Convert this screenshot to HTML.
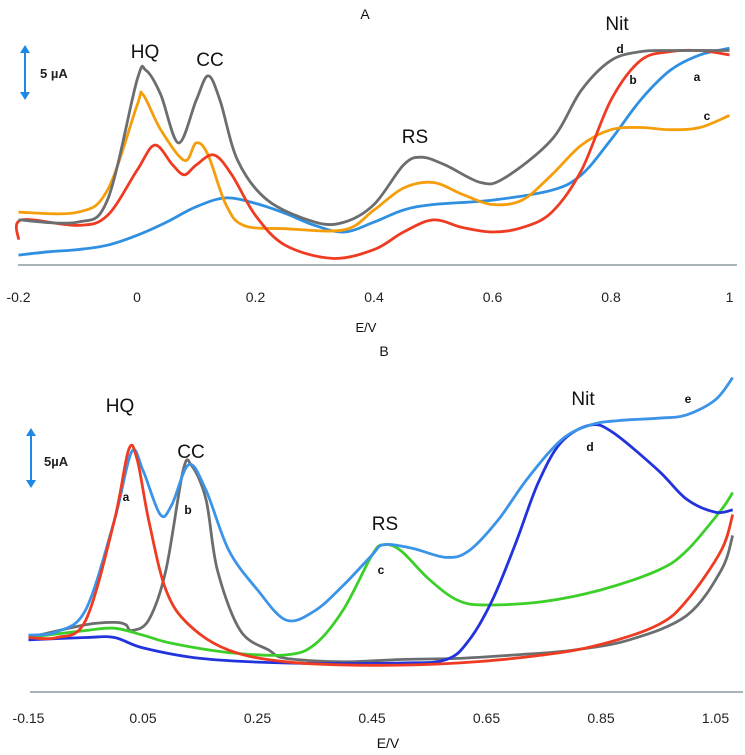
<!DOCTYPE html>
<html><head><meta charset="utf-8"><style>
html,body{margin:0;padding:0;background:#fff;}
svg{display:block;font-family:"Liberation Sans",sans-serif;}
</style></head><body>
<svg id="chart" width="745" height="755" viewBox="0 0 745 755">
<g id="A"></g>
<g id="B"></g>
</svg>
<script>
// Panel A data (E in V, current in µA)
const aTicks = [-0.2, 0, 0.2, 0.4, 0.6, 0.8, 1];
const aTickLabels = ["-0.2", "0", "0.2", "0.4", "0.6", "0.8", "1"];
const aGrayE = [-0.2,-0.1,-0.05,0,0.015,0.04,0.07,0.1,0.12,0.14,0.17,0.22,0.3,0.35,0.4,0.45,0.48,0.52,0.58,0.62,0.7,0.75,0.8,0.85,0.9,1.0];
const aGrayI = [4.1,3.9,5.9,16.8,17.7,15.5,11.1,15,17.2,15,9.5,5.9,3.9,3.9,5.5,9.1,9.8,9.1,7.5,7.9,11.4,15.9,18.6,19.4,19.5,19.5];
const aOrangeE = [-0.2,-0.1,-0.05,0,0.01,0.04,0.08,0.1,0.12,0.15,0.18,0.25,0.35,0.4,0.45,0.5,0.55,0.6,0.65,0.7,0.75,0.8,0.85,0.9,0.95,1.0];
const aOrangeI = [4.8,4.8,6.8,14.5,15.5,12.3,9.5,11.1,10,5.5,3.6,3.3,3.2,5,7,7.5,6.4,5.5,5.9,8.2,10.9,12.3,12.5,12.3,12.5,13.6];
const aRedE = [-0.2,-0.195,-0.1,-0.05,0,0.03,0.06,0.08,0.1,0.13,0.16,0.2,0.25,0.33,0.4,0.45,0.5,0.55,0.6,0.65,0.7,0.75,0.8,0.85,0.9,0.95,1.0];
const aRedI = [2.3,4.1,3.6,4.5,8.6,10.9,9.1,8.2,9.1,10,8.2,4.5,1.8,0.6,1.4,3,4.1,3.4,3,3.4,4.8,8.6,15,18.6,19.4,19.5,19.1];
const aBlueE = [-0.2,-0.15,-0.1,-0.05,0,0.05,0.1,0.15,0.2,0.25,0.3,0.35,0.4,0.45,0.5,0.6,0.7,0.75,0.8,0.85,0.9,0.95,1.0];
const aBlueI = [0.9,1.2,1.4,1.8,2.7,3.9,5.3,6.1,5.6,4.7,3.6,3,3.9,5,5.5,5.9,6.8,8.2,11.4,15,17.7,19.1,19.7];

// Panel B data
const bTicks = [-0.15, 0.05, 0.25, 0.45, 0.65, 0.85, 1.05];
const bTickLabels = ["-0.15", "0.05", "0.25", "0.45", "0.65", "0.85", "1.05"];
const bRedE = [-0.15,-0.1,-0.05,0,0.025,0.04,0.06,0.09,0.13,0.2,0.3,0.45,0.6,0.75,0.85,0.95,1.0,1.06,1.08];
const bRedI = [4.7,4.7,6.2,14.8,20.9,20,14.8,8.8,5.8,3.6,2.6,2.3,2.5,3.2,4.1,5.8,7.9,12.2,15.3];
const bGrayE = [-0.15,-0.05,0,0.02,0.03,0.06,0.09,0.12,0.135,0.16,0.18,0.22,0.27,0.3,0.4,0.5,0.6,0.7,0.8,0.9,1.0,1.06,1.08];
const bGrayI = [4.7,5.8,6,5.8,5.3,6.2,10.5,19.1,19.5,16.6,10.5,5.3,3.6,2.9,2.6,2.8,2.9,3.2,3.6,4.5,6.6,10.5,13.5];
const bGreenE = [-0.15,-0.05,0,0.05,0.1,0.2,0.3,0.35,0.4,0.45,0.47,0.5,0.55,0.6,0.65,0.75,0.85,0.95,1.0,1.06,1.08];
const bGreenI = [4.7,5.3,5.5,4.9,4.2,3.4,3.2,4.1,7.1,11.8,12.7,12.2,9.7,7.9,7.5,7.8,8.8,10.5,12.2,15.7,17.2];
const bNavyE = [-0.15,-0.05,0,0.05,0.15,0.3,0.5,0.58,0.62,0.66,0.7,0.74,0.78,0.83,0.87,0.95,1.0,1.05,1.08];
const bNavyI = [4.5,4.7,4.7,3.8,2.9,2.5,2.5,2.8,4.5,7.9,12.7,18.0,21.5,23,22.4,19.1,16.6,15.5,15.7];
const bLightE = [-0.15,-0.1,-0.05,0,0.03,0.05,0.08,0.1,0.13,0.16,0.2,0.25,0.3,0.35,0.4,0.45,0.47,0.52,0.58,0.62,0.67,0.72,0.78,0.83,0.88,0.95,1.0,1.05,1.08];
const bLightI = [4.9,5.2,7.1,14.8,20.7,19.1,15.3,16.1,19.6,17.4,12.2,8.8,6.2,7.0,9.2,11.8,12.7,12.4,11.6,12.2,14.8,18.3,21.7,23,23.4,23.6,23.9,25.2,27.1];

const NS = "http://www.w3.org/2000/svg";
function mk(parent, tag, attrs, text) {
  const e = document.createElementNS(NS, tag);
  for (const k in attrs) e.setAttribute(k, attrs[k]);
  if (text !== undefined) e.textContent = text;
  parent.appendChild(e);
  return e;
}
function smooth(pts) {
  let d = "M" + pts[0][0].toFixed(1) + "," + pts[0][1].toFixed(1);
  for (let i = 0; i < pts.length - 1; i++) {
    const p0 = pts[Math.max(0, i - 1)], p1 = pts[i], p2 = pts[i + 1], p3 = pts[Math.min(pts.length - 1, i + 2)];
    const c1x = p1[0] + (p2[0] - p0[0]) / 6, c1y = p1[1] + (p2[1] - p0[1]) / 6;
    const c2x = p2[0] - (p3[0] - p1[0]) / 6, c2y = p2[1] - (p3[1] - p1[1]) / 6;
    d += " C" + c1x.toFixed(1) + "," + c1y.toFixed(1) + " " + c2x.toFixed(1) + "," + c2y.toFixed(1) + " " + p2[0].toFixed(1) + "," + p2[1].toFixed(1);
  }
  return d;
}

const gA = document.getElementById("A");
const axA = { x0: 137, kx: 592.5, y0: 265, ky: 11 };
function xA(v) { return axA.x0 + v * axA.kx; }
function yA(v) { return axA.y0 - v * axA.ky; }
const gB = document.getElementById("B");
const axB = { x0: 143, kx: 572.5, y0: 692, ky: 11.6 };
function xB(v) { return axB.x0 + (v - 0.05) * axB.kx; }
function yB(v) { return axB.y0 - v * axB.ky; }

function drawAxis(g, x1, x2, y, ticks, labels, fx, ly) {
  const ax = mk(g, "line", { x1: x1, x2: x2, y1: y, y2: y, stroke: "#a8b4b8", "stroke-width": 2 });
  
  
  ticks.forEach((t, i) => {
    const tl = mk(g, "text", { x: fx(t), y: ly, "text-anchor": "middle", "font-size": 14, fill: "#222" }, labels[i]);
    
    
  });
}
function drawSeries(g, E, I, fx, fy, color, name) {
  const pts = E.map((e, i) => [fx(e), fy(I[i])]);
  const p = mk(g, "path", { d: smooth(pts), fill: "none", stroke: color, "stroke-width": 2.8, "stroke-linejoin": "round" });
  
  
}
function label(g, x, y, size, txt, name, bold) {
  const t = mk(g, "text", { x: x, y: y, "text-anchor": "middle", "font-size": size, fill: "#111", "font-weight": bold ? "bold" : "normal" }, txt);
  
  
}
function scaleArrow(g, x, y1, y2, txt, tx, ty) {
  const l = mk(g, "g", {});
  
  
  mk(l, "line", { x1: x, x2: x, y1: y1 + 5, y2: y2 - 5, stroke: "#1e88e5", "stroke-width": 2 });
  mk(l, "polygon", { points: (x - 5) + "," + (y1 + 8) + " " + x + "," + y1 + " " + (x + 5) + "," + (y1 + 8), fill: "#1e88e5" });
  mk(l, "polygon", { points: (x - 5) + "," + (y2 - 8) + " " + x + "," + y2 + " " + (x + 5) + "," + (y2 - 8), fill: "#1e88e5" });
  mk(l, "text", { x: tx, y: ty, "font-size": 13, "font-weight": "bold", fill: "#222" }, txt);
}

// Panel A
drawAxis(gA, 18, 737, 265, aTicks, aTickLabels, xA, 302);
drawSeries(gA, aBlueE, aBlueI, xA, yA, "#2f8fe0", "curve-a-blue");
drawSeries(gA, aOrangeE, aOrangeI, xA, yA, "#f59e0b", "curve-c-orange");
drawSeries(gA, aRedE, aRedI, xA, yA, "#ee3b22", "curve-b-red");
drawSeries(gA, aGrayE, aGrayI, xA, yA, "#6b6e70", "curve-d-gray");
scaleArrow(gA, 25, 45, 100, "5 µA", 40, 78);
label(gA, 365, 19, 14, "A", "panel-a-title");
label(gA, 617, 30, 19, "Nit", "nit-label");
label(gA, 620, 53, 12, "d", "label-d", true);
label(gA, 633, 84, 12, "b", "label-b", true);
label(gA, 697, 81, 12, "a", "label-a", true);
label(gA, 707, 120, 12, "c", "label-c", true);
label(gA, 145, 58, 19, "HQ", "hq-label");
label(gA, 210, 66, 19, "CC", "cc-label");
label(gA, 415, 143, 19, "RS", "rs-label");
label(gA, 366, 332, 13, "E/V", "x-axis-title-a");
label(gA, 384, 356, 14, "B", "panel-b-title");

// Panel B
drawAxis(gB, 30, 743, 692, bTicks, bTickLabels, xB, 723);
drawSeries(gB, bGrayE, bGrayI, xB, yB, "#6b6e70", "curve-b-gray");
drawSeries(gB, bGreenE, bGreenI, xB, yB, "#3ccf2a", "curve-c-green");
drawSeries(gB, bNavyE, bNavyI, xB, yB, "#2233dd", "curve-d-navy");
drawSeries(gB, bLightE, bLightI, xB, yB, "#3b94e8", "curve-e-lightblue");
drawSeries(gB, bRedE, bRedI, xB, yB, "#ee3b22", "curve-a-red");
scaleArrow(gB, 31, 428, 488, "5µA", 44, 466);
label(gB, 120, 412, 19, "HQ", "hq-label-b");
label(gB, 191, 458, 19, "CC", "cc-label-b");
label(gB, 385, 530, 19, "RS", "rs-label-b");
label(gB, 583, 405, 19, "Nit", "nit-label-b");
label(gB, 688, 403, 12, "e", "label-e", true);
label(gB, 590, 451, 12, "d", "label-d-b", true);
label(gB, 126, 501, 12, "a", "label-a-b", true);
label(gB, 188, 514, 12, "b", "label-b-b", true);
label(gB, 381, 574, 12, "c", "label-c-b", true);
label(gB, 388, 748, 14, "E/V", "x-axis-title-b");
</script>
</body></html>
